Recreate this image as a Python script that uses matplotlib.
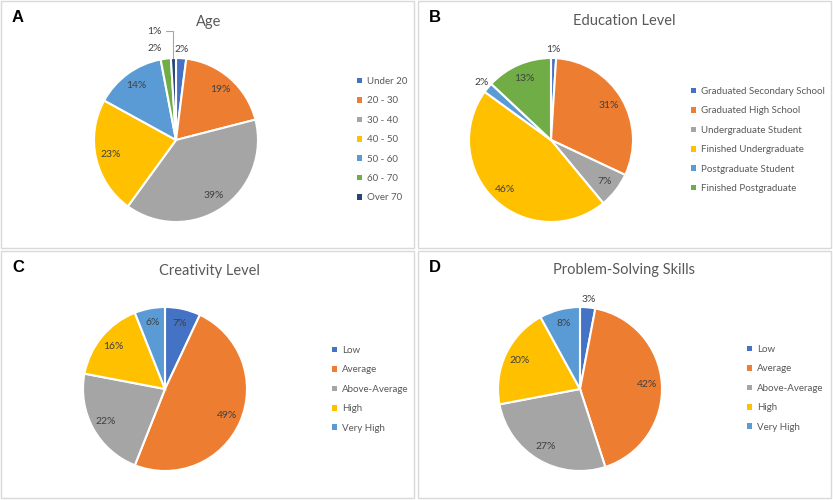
import numpy as np
import matplotlib
matplotlib.use('Agg')
import matplotlib.pyplot as plt
import matplotlib.patches as patches

plt.rcParams['font.family'] = ['Lato', 'DejaVu Sans']

# data
age_labels = ['Under 20', '20 - 30', '30 - 40', '40 - 50', '50 - 60', '60 - 70', 'Over 70']
age_vals = [2, 19, 39, 23, 14, 2, 1]
edu_labels = ['Graduated Secondary School', 'Graduated High School', 'Undergraduate Student',
              'Finished Undergraduate', 'Postgraduate Student', 'Finished Postgraduate']
edu_vals = [1, 31, 7, 46, 2, 13]
skill_labels = ['Low', 'Average', 'Above-Average', 'High', 'Very High']
creat_vals = [7, 49, 22, 16, 6]
prob_vals = [3, 42, 27, 20, 8]

office = ['#4472C4', '#ED7D31', '#A5A5A5', '#FFC000', '#5B9BD5', '#70AD47', '#264478']

W, H = 833, 500
fig = plt.figure(figsize=(W / 100, H / 100), dpi=100)
R = 82  # pie radius in pixels
LIM = 1.45


def px(x, y):
    # pixel (from top-left) -> figure fraction
    return x / W, 1 - y / H


def draw_panel(letter, title, labels, vals, box, center, title_xy, leg_xy, special=None):
    x0, y0, x1, y1 = box
    fig.patches.append(patches.Rectangle(px(x0, y1), (x1 - x0) / W, (y1 - y0) / H,
                                         transform=fig.transFigure, fill=False,
                                         edgecolor='#D9D9D9', lw=1.0))
    fx, fy = px(x0 + 11, y0 + 21)
    fig.text(fx, fy, letter, family='Liberation Sans', weight='bold', fontsize=12,
             color='black', ha='left', va='baseline')
    tx, ty = px(*title_xy)
    fig.text(tx, ty, title, fontsize=10.5, color='#595959', ha='center', va='center')

    cx, cy = center
    size = 2 * LIM * R
    ax = fig.add_axes([(cx - LIM * R) / W, (H - cy - LIM * R) / H, size / W, size / H])

    cols = office[:len(vals)]
    wedges, _ = ax.pie(vals, colors=cols, startangle=90, counterclock=False, radius=1,
                       wedgeprops=dict(edgecolor='white', linewidth=1.5))
    ax.set_xlim(-LIM, LIM)
    ax.set_ylim(-LIM, LIM)
    ax.axis('off')

    total = float(sum(vals))
    for i, (w, v) in enumerate(zip(wedges, vals)):
        ang = np.deg2rad((w.theta1 + w.theta2) / 2)
        txt = f'{v}%'
        if special and i in special:
            kind, dx, dy = special[i]
            if kind == 'leader':
                ax.annotate(txt, xy=(np.cos(ang) * 1.0, np.sin(ang) * 1.0),
                            xytext=(dx, dy), textcoords='offset pixels',
                            fontsize=7.5, color='#404040', ha='center', va='center',
                            arrowprops=dict(arrowstyle='-', color='#A6A6A6', lw=0.8,
                                            connectionstyle='angle,angleA=0,angleB=90',
                                            shrinkA=1, shrinkB=0))
            else:
                ax.annotate(txt, xy=(np.cos(ang) * 1.1, np.sin(ang) * 1.1),
                            xytext=(dx, dy), textcoords='offset pixels',
                            fontsize=7.5, color='#404040', ha='center', va='center')
        elif v / total < 0.04:
            ax.text(np.cos(ang) * 1.1, np.sin(ang) * 1.1, txt, fontsize=7.5,
                    color='#404040', ha='center', va='center')
        else:
            ax.text(np.cos(ang) * 0.82, np.sin(ang) * 0.82, txt, fontsize=7.5,
                    color='#404040', ha='center', va='center')

    lx, ly = px(*leg_xy)
    leg = fig.legend(wedges, labels, loc='upper left', bbox_to_anchor=(lx, ly),
                     bbox_transform=fig.transFigure, frameon=False, fontsize=7,
                     handlelength=0.5, handleheight=0.5, handletextpad=0.55,
                     labelspacing=1.07, borderpad=0, borderaxespad=0)
    for t in leg.get_texts():
        t.set_color('#595959')
    for h in leg.legend_handles:
        h.set_edgecolor('none')
        h.set_linewidth(0)


draw_panel('A', 'Age', age_labels, age_vals, (1, 1, 414, 248), (176, 140), (209, 22),
           (357, 77), special={5: ('out', -10, 2), 6: ('leader', -19, 27)})
draw_panel('B', 'Education Level', edu_labels, edu_vals, (418, 1, 831, 248), (551, 140),
           (624, 21), (691, 87))
draw_panel('C', 'Creativity Level', skill_labels, creat_vals, (1, 251, 414, 498), (165, 389),
           (209, 271), (332, 346))
draw_panel('D', 'Problem-Solving Skills', skill_labels, prob_vals, (418, 251, 831, 498),
           (580, 389), (624, 270), (747, 345))

fig.savefig('out.png', dpi=100)
